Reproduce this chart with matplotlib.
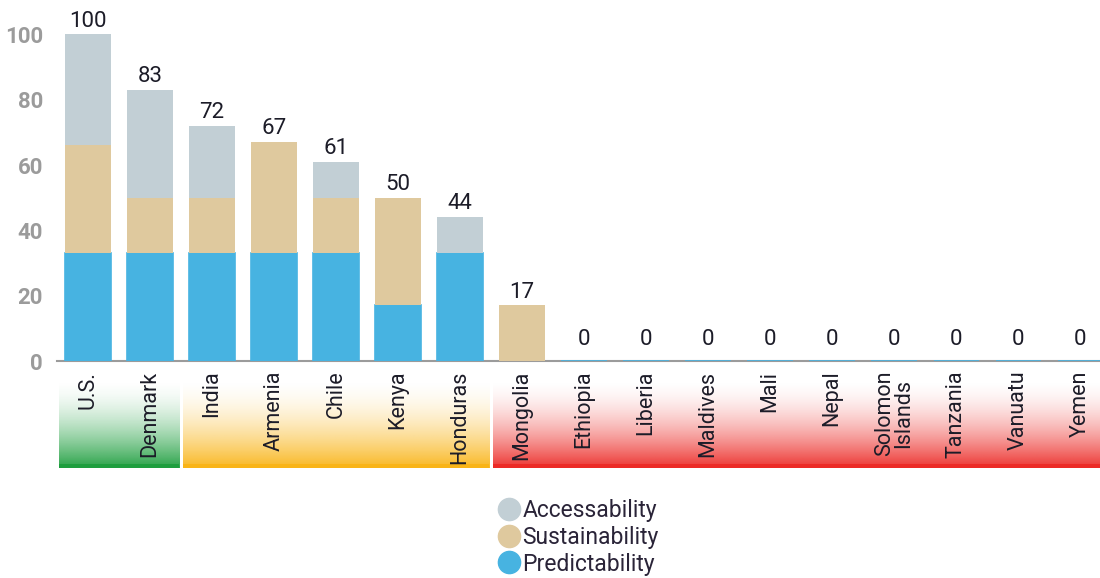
import numpy as np
import matplotlib
matplotlib.use("Agg")
import matplotlib.pyplot as plt
from matplotlib.lines import Line2D
from matplotlib.colors import to_rgb

countries = ["U.S.", "Denmark", "India", "Armenia", "Chile", "Kenya", "Honduras",
             "Mongolia", "Ethiopia", "Liberia", "Maldives", "Mali", "Nepal",
             "Solomon\nIslands", "Tanzania", "Vanuatu", "Yemen"]
predictability = [33, 33, 33, 33, 33, 17, 33, 0, 0, 0, 0, 0, 0, 0, 0, 0, 0]
sustainability = [33, 17, 17, 34, 17, 33, 0, 17, 0, 0, 0, 0, 0, 0, 0, 0, 0]
accessability = [34, 33, 22, 0, 11, 0, 11, 0, 0, 0, 0, 0, 0, 0, 0, 0, 0]
totals = [100, 83, 72, 67, 61, 50, 44, 17, 0, 0, 0, 0, 0, 0, 0, 0, 0]

# groups shown as coloured bands under the labels (first idx, last idx, colour)
groups = [(0, 1, "#1e9e3e"), (2, 6, "#f9b417"), (7, 16, "#ec2a26")]

c_acc = "#c2cfd5"
c_sus = "#dfc99e"
c_pre = "#47b3e1"

plt.rcParams["font.family"] = ["Roboto", "DejaVu Sans"]

W, H = 1100, 578
fig = plt.figure(figsize=(W / 100, H / 100), dpi=100)

x0, x1 = 57 / W, 1100 / W
y_bot, y_top = 1 - 361 / H, 1 - 18 / H
ax = fig.add_axes([x0, y_bot, x1 - x0, y_top - y_bot])
ax.set_zorder(2)
xmin, xmax = -0.5, 16.32

x = np.arange(len(countries))
w = 0.73
ax.bar(x, predictability, w, color=c_pre, edgecolor=c_pre, linewidth=1.2, zorder=3)
ax.bar(x, sustainability, w, bottom=predictability, color=c_sus, linewidth=0, zorder=3)
bottom2 = np.array(predictability) + np.array(sustainability)
ax.bar(x, accessability, w, bottom=bottom2, color=c_acc, linewidth=0, zorder=3)

for xi, t in zip(x, totals):
    ax.annotate(str(t), (xi, t), xytext=(0, 2 if t > 0 else 8), textcoords="offset points",
                ha="center", va="bottom", fontsize=16, color="#1c1c28")

ax.set_xlim(xmin, xmax)
ax.set_ylim(0, 105)
ax.set_yticks([0, 20, 40, 60, 80, 100])
ax.tick_params(axis="y", length=0, pad=10, labelsize=16, labelcolor="#9b9b9b")
for lab in ax.get_yticklabels():
    lab.set_fontweight("bold")
    lab.set_verticalalignment("center_baseline")
ax.set_xticks(x)
ax.set_xticklabels(countries, rotation=90, fontsize=15.5, color="#1c1c28",
                   ha="center", va="top", multialignment="center", linespacing=0.9)
ax.tick_params(axis="x", length=0, pad=7)
for s in ["left", "right", "top"]:
    ax.spines[s].set_visible(False)
ax.spines["bottom"].set_color("#9b9b9b")
ax.spines["bottom"].set_linewidth(1.5)

# gradient bands under the category labels
band = fig.add_axes([x0, 1 - 468 / H, x1 - x0, (468 - 380) / H])
band.set_zorder(1)
band.set_xlim(xmin, xmax)
band.set_ylim(0, 1)
band.axis("off")
ramp = np.linspace(1, 0, 100) ** 1.7
for g0, g1, col in groups:
    img = np.ones((100, 2, 4))
    img[:, :, :3] = to_rgb(col)
    img[:, :, 3] = ramp[:, None] * 0.95
    left = g0 - 0.47
    right = min(g1 + 0.47, xmax)
    band.imshow(img, extent=(left, right, 0, 1), aspect="auto", origin="lower",
                interpolation="bilinear")
    band.fill_between([left, right], 0, 0.045, color=col, linewidth=0)

handles = [Line2D([], [], marker="o", linestyle="", markersize=16, color=c)
           for c in (c_acc, c_sus, c_pre)]
fig.legend(handles, ["Accessability", "Sustainability", "Predictability"],
           loc="upper left", bbox_to_anchor=(488 / W, 1 - 490 / H), frameon=False,
           fontsize=16.5, handletextpad=0.1, labelspacing=0.16,
           borderaxespad=0, handlelength=1.0, labelcolor="#2a2438")

fig.savefig("out.png", dpi=100)
